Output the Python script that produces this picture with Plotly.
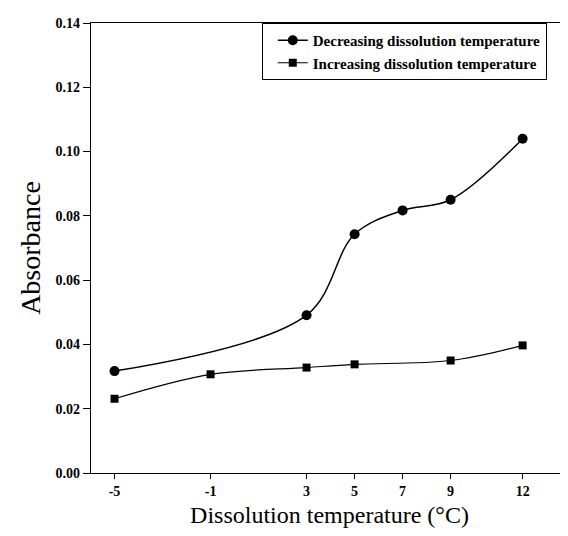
import plotly.graph_objects as go

x_dec = [-5, 3, 5, 7, 9, 12]
y_dec = [0.0317, 0.0491, 0.0743, 0.0817, 0.0850, 0.104]
x_inc = [-5, -1, 3, 5, 9, 12]
y_inc = [0.0231, 0.0307, 0.0328, 0.0338, 0.0350, 0.0397]
x_ticks = [-5, -1, 3, 5, 7, 9, 12]
y_ticks = [0.00, 0.02, 0.04, 0.06, 0.08, 0.10, 0.12, 0.14]

FONT = "Liberation Serif"

fig = go.Figure()
fig.add_trace(go.Scatter(
    x=x_dec, y=y_dec, mode="lines+markers", name="Decreasing dissolution temperature",
    line=dict(color="black", width=1.5, shape="spline", smoothing=1.0),
    marker=dict(symbol="circle", size=10, color="black"),
))
fig.add_trace(go.Scatter(
    x=x_inc, y=y_inc, mode="lines+markers", name="Increasing dissolution temperature",
    line=dict(color="black", width=1.2, shape="spline", smoothing=1.0),
    marker=dict(symbol="square", size=8, color="black"),
))

fig.update_layout(
    width=560, height=528,
    margin=dict(l=83, r=0, t=15, b=63),
    paper_bgcolor="white", plot_bgcolor="white",
    showlegend=True,
    legend=dict(
        x=0.358, y=1.0, xanchor="left", yanchor="top",
        bordercolor="black", borderwidth=1, bgcolor="white",
        font=dict(family=FONT, size=15, color="black", weight="bold"),
        tracegroupgap=0, indentation=10,
    ),
    xaxis=dict(
        range=[-5.98, 13.89], tickvals=x_ticks, ticktext=[str(v) for v in x_ticks],
        showgrid=False, zeroline=False, showline=True, linecolor="black", linewidth=1.2,
        mirror=True, ticks="outside", ticklen=5, tickcolor="black",
        tickfont=dict(family=FONT, size=14, color="black", weight="bold"),
        title=dict(text="Dissolution temperature (°C)", font=dict(family=FONT, size=24, color="black"), standoff=8),
    ),
    yaxis=dict(
        range=[0, 0.14], tickvals=y_ticks, ticktext=["%.2f" % v for v in y_ticks],
        showgrid=False, zeroline=False, showline=True, linecolor="black", linewidth=1.2,
        ticks="outside", ticklen=7, tickcolor="black",
        tickfont=dict(family=FONT, size=14, color="black", weight="bold"),
        title=dict(text="Absorbance", font=dict(family=FONT, size=28, color="black"), standoff=6),
    ),
)

fig.write_html("out.html")
